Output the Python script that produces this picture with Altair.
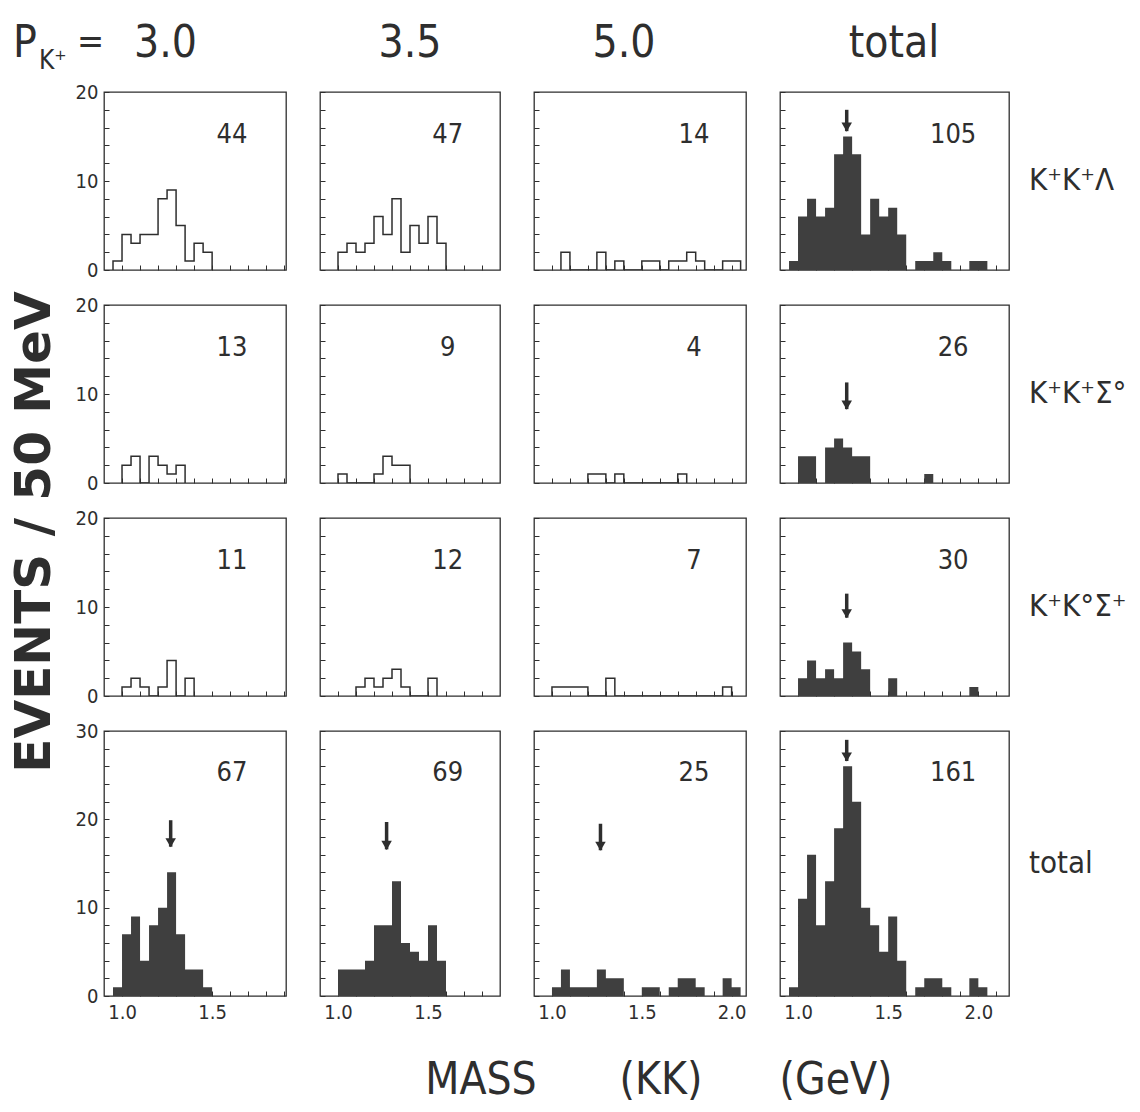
import altair as alt
import pandas as pd

NARROW = "Liberation Sans Narrow, DejaVu Sans Condensed, Liberation Sans, sans-serif"
BOLD = "DejaVu Sans, Liberation Sans, sans-serif"
INK = "#2e2e2e"
FILL = "#3f3f3f"

# ---------------- data ----------------
bin_starts = [0.95, 1.00, 1.05, 1.10, 1.15, 1.20, 1.25, 1.30, 1.35, 1.40, 1.45,
              1.50, 1.55, 1.60, 1.65, 1.70, 1.75, 1.80, 1.85, 1.90, 1.95, 2.00]
bin_width = 0.05

momenta = ["3.0", "3.5", "5.0", "total"]
channels = ["K⁺K⁺Λ", "K⁺K⁺Σ°", "K⁺K°Σ⁺", "total"]

# events per 50 MeV bin (bins start at bin_starts)
kkl_30 = [1, 4, 3, 4, 4, 8, 9, 5, 1, 3, 2, 0, 0, 0, 0, 0, 0, 0, 0, 0, 0, 0]
kkl_35 = [0, 2, 3, 2, 3, 6, 4, 8, 2, 5, 3, 6, 3, 0, 0, 0, 0, 0, 0, 0, 0, 0]
kkl_50 = [0, 0, 2, 0, 0, 0, 2, 0, 1, 0, 0, 1, 1, 0, 1, 1, 2, 1, 0, 0, 1, 1]
kkl_tot = [1, 6, 8, 6, 7, 13, 15, 13, 4, 8, 6, 7, 4, 0, 1, 1, 2, 1, 0, 0, 1, 1]

kks0_30 = [0, 2, 3, 0, 3, 2, 1, 2, 0, 0, 0, 0, 0, 0, 0, 0, 0, 0, 0, 0, 0, 0]
kks0_35 = [0, 1, 0, 0, 0, 1, 3, 2, 2, 0, 0, 0, 0, 0, 0, 0, 0, 0, 0, 0, 0, 0]
kks0_50 = [0, 0, 0, 0, 0, 1, 1, 0, 1, 0, 0, 0, 0, 0, 0, 1, 0, 0, 0, 0, 0, 0]
kks0_tot = [0, 3, 3, 0, 4, 5, 4, 3, 3, 0, 0, 0, 0, 0, 0, 1, 0, 0, 0, 0, 0, 0]

kksp_30 = [0, 1, 2, 1, 0, 1, 4, 0, 2, 0, 0, 0, 0, 0, 0, 0, 0, 0, 0, 0, 0, 0]
kksp_35 = [0, 0, 0, 1, 2, 1, 2, 3, 1, 0, 0, 2, 0, 0, 0, 0, 0, 0, 0, 0, 0, 0]
kksp_50 = [0, 1, 1, 1, 1, 0, 0, 2, 0, 0, 0, 0, 0, 0, 0, 0, 0, 0, 0, 0, 1, 0]
kksp_tot = [0, 2, 4, 2, 3, 2, 6, 5, 3, 0, 0, 2, 0, 0, 0, 0, 0, 0, 0, 0, 1, 0]

all_30 = [1, 7, 9, 4, 8, 10, 14, 7, 3, 3, 1, 0, 0, 0, 0, 0, 0, 0, 0, 0, 0, 0]
all_35 = [0, 3, 3, 3, 4, 8, 8, 13, 6, 5, 4, 8, 4, 0, 0, 0, 0, 0, 0, 0, 0, 0]
all_50 = [0, 1, 3, 1, 1, 1, 3, 2, 2, 0, 0, 1, 1, 0, 1, 2, 2, 1, 0, 0, 2, 1]
all_tot = [1, 11, 16, 8, 13, 19, 26, 22, 10, 8, 5, 9, 4, 0, 1, 2, 2, 1, 0, 0, 2, 1]

panel_counts = [
    [kkl_30, kkl_35, kkl_50, kkl_tot],
    [kks0_30, kks0_35, kks0_50, kks0_tot],
    [kksp_30, kksp_35, kksp_50, kksp_tot],
    [all_30, all_35, all_50, all_tot],
]
panel_totals = [[44, 47, 14, 105], [13, 9, 4, 26], [11, 12, 7, 30], [67, 69, 25, 161]]

# arrows marking 1.27 GeV: (row, col) -> (top, tip) in events
arrow_mass = 1.27
arrows = {
    (0, 3): (18.0, 15.6),
    (1, 3): (11.3, 8.3),
    (2, 3): (11.5, 8.8),
    (3, 0): (19.9, 16.9),
    (3, 1): (19.7, 16.6),
    (3, 2): (19.5, 16.5),
    (3, 3): (29.0, 26.6),
}

# ---------------- layout ----------------
col_domains = [[0.9, 1.91], [0.9, 1.9], [0.9, 2.08], [0.9, 2.17]]
col_widths = [182, 180, 212, 229]
x_ticks = [
    [1.0, 1.1, 1.2, 1.3, 1.4, 1.5, 1.6, 1.7, 1.8, 1.9],
    [1.0, 1.1, 1.2, 1.3, 1.4, 1.5, 1.6, 1.7, 1.8],
    [1.0, 1.1, 1.2, 1.3, 1.4, 1.5, 1.6, 1.7, 1.8, 1.9, 2.0],
    [1.0, 1.1, 1.2, 1.3, 1.4, 1.5, 1.6, 1.7, 1.8, 1.9, 2.0, 2.1],
]
row_ymax = [20, 20, 20, 30]
row_heights = [178, 178, 178, 265]
y_ticks = [list(range(0, 21, 2))] * 3 + [list(range(0, 31, 2))]
label_x = [1.61, 1.61, 1.79, 1.86]
label_y = [15.2, 15.2, 15.2, 25.3]

one_row = pd.DataFrame({"k": [0]})


def text_cell(w, h, items):
    layers = []
    for it in items:
        layers.append(
            alt.Chart(one_row).mark_text(
                text=it["text"], align=it.get("align", "center"),
                baseline=it.get("baseline", "middle"), font=it.get("font", NARROW),
                fontSize=it.get("size", 30), fontWeight=it.get("weight", "normal"),
                angle=it.get("angle", 0), color=INK,
            ).encode(x=alt.value(it["x"]), y=alt.value(it["y"]))
        )
    if not layers:
        layers.append(alt.Chart(one_row).mark_text(text="").encode(x=alt.value(0), y=alt.value(0)))
    return alt.layer(*layers).properties(
        width=w, height=h, view=alt.ViewBackground(stroke="transparent"))


def hist_panel(r, c):
    counts = panel_counts[r][c]
    filled = (r == 3 or c == 3)
    nz = [i for i, v in enumerate(counts) if v > 0]
    i0, i1 = nz[0], nz[-1]
    end = round(bin_starts[i1] + bin_width, 2)

    xk = dict(values=x_ticks[c], format=".1f", offset=-5, tickSize=5, domain=False,
              grid=False, title=None, tickColor=INK, tickWidth=1)
    if r == 3:
        xk.update(labels=True, labelPadding=6, labelFontSize=20, labelFont=NARROW, labelColor=INK,
                  labelExpr="indexof(['1.0','1.5','2.0'], datum.label) >= 0 ? datum.label : ''")
    else:
        xk.update(labels=False)
    yk = dict(values=y_ticks[r], offset=-5, tickSize=5, domain=False, grid=False, title=None,
              tickColor=INK, tickWidth=1)
    if c == 0:
        yk.update(labels=True, labelPadding=6, labelFontSize=20, labelFont=NARROW, labelColor=INK,
                  labelExpr="datum.value % 10 === 0 ? datum.label : ''")
    else:
        yk.update(labels=False)

    xs_scale = alt.Scale(domain=col_domains[c], nice=False, zero=False)
    ys_scale = alt.Scale(domain=[0, row_ymax[r]], nice=False, zero=True)
    X = alt.X("mass:Q", scale=xs_scale, axis=alt.Axis(**xk))
    Y = alt.Y("events:Q", scale=ys_scale, axis=alt.Axis(**yk))

    layers = []
    if filled:
        adf = pd.DataFrame({"mass": bin_starts[i0:i1 + 1] + [end],
                            "events": counts[i0:i1 + 1] + [0]})
        layers.append(alt.Chart(adf).mark_area(interpolate="step-after", color=FILL, clip=True)
                      .encode(x=X, y=Y))
    else:
        xs = [bin_starts[i0]] + bin_starts[i0:i1 + 1] + [end]
        ys = [0] + counts[i0:i1 + 1] + [0]
        ldf = pd.DataFrame({"mass": xs, "events": ys, "order": list(range(len(xs)))})
        layers.append(alt.Chart(ldf).mark_line(interpolate="step-after", color=INK,
                                               strokeWidth=1.5, clip=True)
                      .encode(x=X, y=Y, order="order:Q"))

    tdf = pd.DataFrame({"mass": [label_x[c]], "events": [label_y[r]],
                        "label": [str(panel_totals[r][c])]})
    layers.append(alt.Chart(tdf).mark_text(font=NARROW, fontSize=27, color=INK)
                  .encode(x=X, y=Y, text="label:N"))

    if (r, c) in arrows:
        top, tip = arrows[(r, c)]
        wdf = pd.DataFrame({"mass": [arrow_mass], "events": [top], "tip": [tip]})
        layers.append(alt.Chart(wdf).mark_rule(color=INK, strokeWidth=3.5)
                      .encode(x=X, y=Y, y2="tip:Q"))
        layers.append(alt.Chart(wdf).mark_point(shape="triangle-down", filled=True, size=110,
                                                color=INK, opacity=1, yOffset=-4)
                      .encode(x=X, y=alt.Y("tip:Q", scale=ys_scale, axis=alt.Axis(**yk))))

    return alt.layer(*layers).properties(
        width=col_widths[c], height=row_heights[r],
        view=alt.ViewBackground(stroke=INK, strokeWidth=1.3))


W0, W5 = 69, 95
H_TITLE, H_XT = 50, 72
cells = []
# title row
cells.append(text_cell(W0, H_TITLE, [
    dict(text="P", x=12, y=50, align="left", baseline="alphabetic", size=44),
    dict(text="K⁺", x=38, y=62, align="left", baseline="alphabetic", size=26),
    dict(text="=", x=76, y=46, align="left", baseline="alphabetic", size=36),
]))
cells.append(text_cell(col_widths[0], H_TITLE, [
    dict(text=momenta[0], x=30, y=50, align="left", baseline="alphabetic", size=44)]))
cells.append(text_cell(col_widths[1], H_TITLE, [
    dict(text=momenta[1], x=90, y=50, baseline="alphabetic", size=44)]))
cells.append(text_cell(col_widths[2], H_TITLE, [
    dict(text=momenta[2], x=90, y=50, baseline="alphabetic", size=44)]))
cells.append(text_cell(col_widths[3], H_TITLE, [
    dict(text=momenta[3], x=114, y=50, baseline="alphabetic", size=44)]))
cells.append(text_cell(W5, H_TITLE, []))

for r in range(4):
    if r == 2:
        cells.append(text_cell(W0, row_heights[r], [
            dict(text="EVENTS / 50 MeV", x=34, y=14, angle=270, size=50, font=BOLD,
                 weight="bold")]))
    else:
        cells.append(text_cell(W0, row_heights[r], []))
    for c in range(4):
        cells.append(hist_panel(r, c))
    cells.append(text_cell(W5, row_heights[r], [
        dict(text=channels[r], x=-14, y=row_heights[r] / 2, align="left", size=31)]))

# x title row
cells.append(text_cell(W0, H_XT, []))
cells.append(text_cell(col_widths[0], H_XT, [
    dict(text="MASS", x=377, y=50, size=44),
    dict(text="(KK)", x=557, y=50, size=44),
    dict(text="(GeV)", x=732, y=50, size=44),
]))
for c in range(1, 4):
    cells.append(text_cell(col_widths[c], H_XT, []))
cells.append(text_cell(W5, H_XT, []))

chart = alt.concat(
    *cells, columns=6, spacing={"row": 35, "column": 34}, bounds="flush", align="each"
).properties(
    padding={"left": 0, "top": 0, "right": 0, "bottom": 0}
).configure_view(stroke="transparent").configure(background="white")

chart.save("out.html", embed_options={"renderer": "svg", "actions": False})
